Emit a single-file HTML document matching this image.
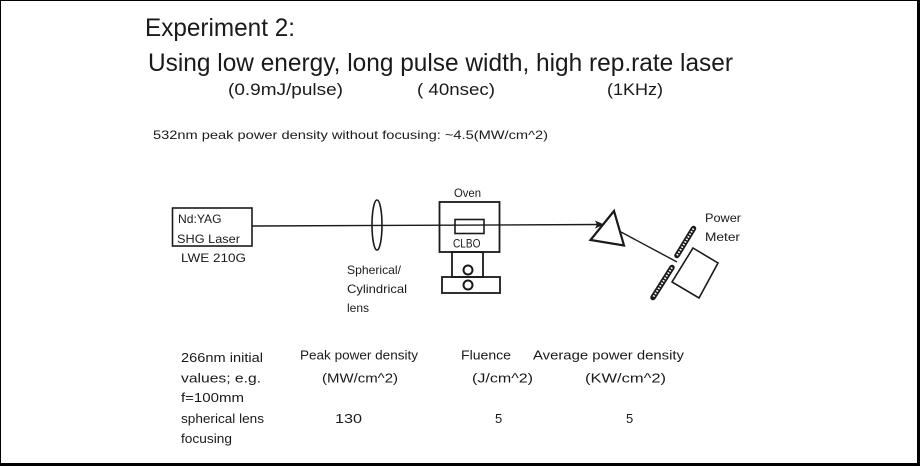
<!DOCTYPE html>
<html><head><meta charset="utf-8"><style>
html,body{margin:0;padding:0;background:#fff;}
svg{display:block;}
text{font-family:"Liberation Sans",Arial,sans-serif;fill:#1a1a1a;}
</style></head><body>
<svg width="920" height="466" viewBox="0 0 920 466" xmlns="http://www.w3.org/2000/svg">
<rect x="0" y="0" width="920" height="466" fill="#fff"/>
<!-- border -->
<line x1="0" y1="0.5" x2="920" y2="0.5" stroke="#000" stroke-width="1"/>
<line x1="0.5" y1="0" x2="0.5" y2="466" stroke="#000" stroke-width="1"/>
<line x1="918.5" y1="0" x2="918.5" y2="466" stroke="#000" stroke-width="3"/>
<line x1="0" y1="464.5" x2="920" y2="464.5" stroke="#000" stroke-width="3"/>

<!-- headings -->
<text x="145" y="36" font-size="25" textLength="150" lengthAdjust="spacingAndGlyphs">Experiment 2:</text>
<text x="148" y="71" font-size="25" textLength="585" lengthAdjust="spacingAndGlyphs">Using low energy, long pulse width, high rep.rate laser</text>
<text x="228" y="95" font-size="17" textLength="115" lengthAdjust="spacingAndGlyphs">(0.9mJ/pulse)</text>
<text x="417" y="95" font-size="17" textLength="78" lengthAdjust="spacingAndGlyphs">( 40nsec)</text>
<text x="607" y="95" font-size="17" textLength="56" lengthAdjust="spacingAndGlyphs">(1KHz)</text>
<text x="153" y="139" font-size="12" textLength="395" lengthAdjust="spacingAndGlyphs">532nm peak power density without focusing: ~4.5(MW/cm^2)</text>

<!-- laser -->
<rect x="172.5" y="208" width="79.5" height="38" fill="none" stroke="#1a1a1a" stroke-width="1.6"/>
<text x="178" y="223" font-size="12" textLength="43.5" lengthAdjust="spacingAndGlyphs">Nd:YAG</text>
<text x="177" y="243" font-size="12" textLength="63" lengthAdjust="spacingAndGlyphs">SHG Laser</text>
<text x="181" y="262" font-size="12" textLength="65" lengthAdjust="spacingAndGlyphs">LWE 210G</text>

<!-- beam -->
<line x1="252" y1="226" x2="600" y2="224.5" stroke="#1a1a1a" stroke-width="1.4"/>
<polygon points="595,220.5 604,224.5 595,228.5 597,224.5" fill="#1a1a1a"/>

<!-- lens -->
<ellipse cx="377" cy="225" rx="5" ry="25" fill="none" stroke="#1a1a1a" stroke-width="1.6"/>
<text x="347" y="274" font-size="12" textLength="54" lengthAdjust="spacingAndGlyphs">Spherical/</text>
<text x="347" y="293" font-size="12" textLength="60" lengthAdjust="spacingAndGlyphs">Cylindrical</text>
<text x="347" y="312" font-size="12">lens</text>

<!-- oven -->
<text x="454" y="197" font-size="12" textLength="27" lengthAdjust="spacingAndGlyphs">Oven</text>
<rect x="439.5" y="202" width="60" height="50" fill="none" stroke="#1a1a1a" stroke-width="1.8"/>
<rect x="455" y="219.5" width="29" height="14" fill="none" stroke="#1a1a1a" stroke-width="1.6"/>
<text x="453" y="247.5" font-size="12" textLength="27.5" lengthAdjust="spacingAndGlyphs">CLBO</text>
<rect x="452" y="252" width="31" height="25" fill="none" stroke="#1a1a1a" stroke-width="1.8"/>
<rect x="442" y="277" width="58" height="16" fill="none" stroke="#1a1a1a" stroke-width="1.8"/>
<circle cx="468" cy="270" r="4.5" fill="none" stroke="#1a1a1a" stroke-width="2"/>
<circle cx="468" cy="285" r="4.5" fill="none" stroke="#1a1a1a" stroke-width="2"/>

<!-- prism -->
<polygon points="614,211 590.5,240 624,245.5" fill="none" stroke="#1a1a1a" stroke-width="2.2" stroke-linejoin="miter"/>
<line x1="621" y1="232" x2="677" y2="262" stroke="#1a1a1a" stroke-width="1.4"/>

<!-- power meter -->
<polygon points="693,248 718,263 699,298 672,282" fill="none" stroke="#1a1a1a" stroke-width="1.6"/>
<line x1="693.5" y1="228.5" x2="677" y2="255.5" stroke="#1a1a1a" stroke-width="5.5" stroke-linecap="round"/>
<line x1="693.5" y1="228.5" x2="677" y2="255.5" stroke="#fff" stroke-width="2" stroke-dasharray="1.5 1.5"/>
<line x1="672" y1="267.5" x2="653" y2="297.5" stroke="#1a1a1a" stroke-width="5.5" stroke-linecap="round"/>
<line x1="672" y1="267.5" x2="653" y2="297.5" stroke="#fff" stroke-width="2" stroke-dasharray="1.5 1.5"/>
<text x="705" y="222" font-size="12" textLength="36" lengthAdjust="spacingAndGlyphs">Power</text>
<text x="705" y="241" font-size="12" textLength="35" lengthAdjust="spacingAndGlyphs">Meter</text>

<!-- table -->
<g font-size="13">
<text x="181" y="362" textLength="82" lengthAdjust="spacingAndGlyphs">266nm initial</text>
<text x="181" y="382.5" textLength="80" lengthAdjust="spacingAndGlyphs">values; e.g.</text>
<text x="181" y="402" textLength="63" lengthAdjust="spacingAndGlyphs">f=100mm</text>
<text x="181" y="423" textLength="83" lengthAdjust="spacingAndGlyphs">spherical lens</text>
<text x="181" y="443" textLength="51" lengthAdjust="spacingAndGlyphs">focusing</text>

<text x="300" y="359.5" textLength="118" lengthAdjust="spacingAndGlyphs">Peak power density</text>
<text x="322" y="382.5" textLength="76" lengthAdjust="spacingAndGlyphs">(MW/cm^2)</text>
<text x="335" y="423" textLength="27" lengthAdjust="spacingAndGlyphs">130</text>

<text x="461" y="359.5" textLength="50" lengthAdjust="spacingAndGlyphs">Fluence</text>
<text x="472" y="382.5" textLength="61" lengthAdjust="spacingAndGlyphs">(J/cm^2)</text>
<text x="495" y="423">5</text>

<text x="533" y="359.5" textLength="151" lengthAdjust="spacingAndGlyphs">Average power density</text>
<text x="585" y="382.5" textLength="81" lengthAdjust="spacingAndGlyphs">(KW/cm^2)</text>
<text x="626" y="423">5</text>
</g>
</svg>
</body></html>
